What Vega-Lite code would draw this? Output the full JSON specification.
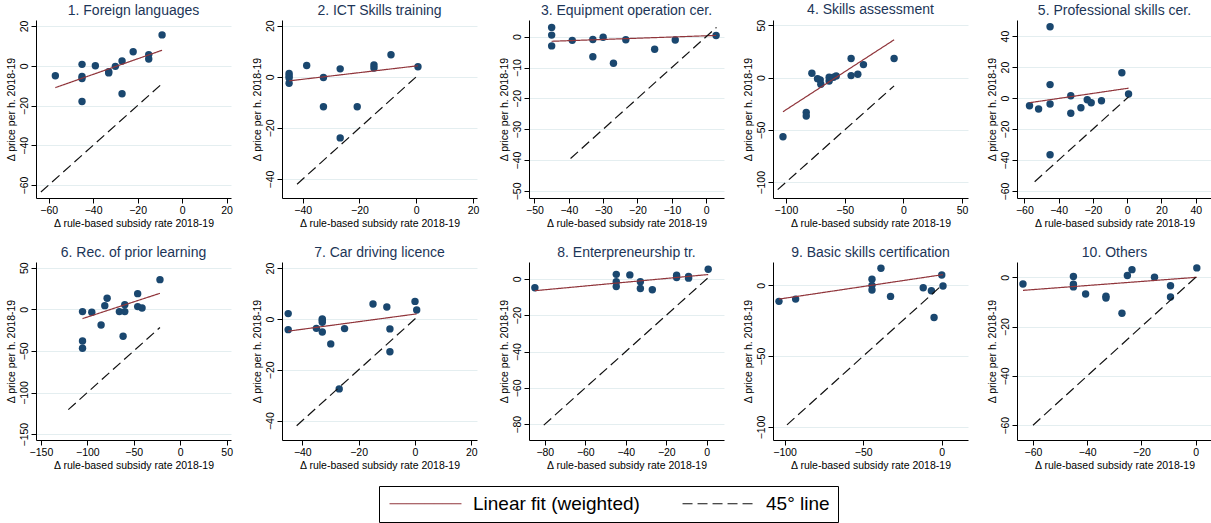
{
"$schema": "https://vega.github.io/schema/vega-lite/v6.json",
"padding": {"left": 5, "top": 3, "right": 0, "bottom": 0},
"background": "white",
"datasets": {
"pts": [
{"p":1,"x":-57,"y":-5},{"p":1,"x":-45,"y":0.7},{"p":1,"x":-45,"y":-5.4},{"p":1,"x":-45,"y":-6.4},{"p":1,"x":-45,"y":-18},{"p":1,"x":-39,"y":0},{"p":1,"x":-33,"y":-3},{"p":1,"x":-33,"y":-3.6},{"p":1,"x":-30,"y":-0.3},{"p":1,"x":-27,"y":2.4},{"p":1,"x":-27,"y":-14.1},{"p":1,"x":-22,"y":7},{"p":1,"x":-15,"y":5.6},{"p":1,"x":-15,"y":3.4},{"p":1,"x":-9,"y":15.5},
{"p":2,"x":-44.8,"y":1.3},{"p":2,"x":-44.8,"y":0.3},{"p":2,"x":-44.8,"y":-0.5},{"p":2,"x":-44.8,"y":-2.5},{"p":2,"x":-38.6,"y":4.4},{"p":2,"x":-32.7,"y":-0.3},{"p":2,"x":-32.7,"y":-11.7},{"p":2,"x":-26.8,"y":3.1},{"p":2,"x":-26.8,"y":-23.9},{"p":2,"x":-20.8,"y":-11.7},{"p":2,"x":-14.9,"y":4.6},{"p":2,"x":-14.9,"y":3.4},{"p":2,"x":-8.9,"y":8.6},{"p":2,"x":0.6,"y":3.9},
{"p":3,"x":-45,"y":3},{"p":3,"x":-45,"y":0.5},{"p":3,"x":-45,"y":-3},{"p":3,"x":-39,"y":-1.2},{"p":3,"x":-33,"y":-0.9},{"p":3,"x":-33,"y":-6.5},{"p":3,"x":-30,"y":-0.2},{"p":3,"x":-27,"y":-8.6},{"p":3,"x":-23.4,"y":-1},{"p":3,"x":-15,"y":-4.1},{"p":3,"x":-9,"y":-1.1},{"p":3,"x":2.9,"y":0.4},
{"p":4,"x":-102.5,"y":-56.5},{"p":4,"x":-82.7,"y":-33.2},{"p":4,"x":-82.7,"y":-36.7},{"p":4,"x":-77.9,"y":4.1},{"p":4,"x":-73.1,"y":-1},{"p":4,"x":-70.8,"y":-2.2},{"p":4,"x":-70.3,"y":-6.4},{"p":4,"x":-63.2,"y":-3.2},{"p":4,"x":-63.2,"y":0.3},{"p":4,"x":-59.5,"y":0.3},{"p":4,"x":-57.2,"y":1.6},{"p":4,"x":-44.5,"y":18.2},{"p":4,"x":-44.5,"y":1.9},{"p":4,"x":-38.8,"y":3.2},{"p":4,"x":-34,"y":12.4},{"p":4,"x":-7.9,"y":18.2},
{"p":5,"x":-57,"y":-4.9},{"p":5,"x":-51.7,"y":-7},{"p":5,"x":-45,"y":46},{"p":5,"x":-45,"y":8.7},{"p":5,"x":-45,"y":-3.8},{"p":5,"x":-45,"y":-36.6},{"p":5,"x":-32.9,"y":1.5},{"p":5,"x":-32.9,"y":-9.8},{"p":5,"x":-27,"y":-6.2},{"p":5,"x":-23.3,"y":-1.1},{"p":5,"x":-21,"y":-3},{"p":5,"x":-15,"y":-1.7},{"p":5,"x":-3.1,"y":16.4},{"p":5,"x":0.8,"y":2.6},
{"p":6,"x":-105.2,"y":-2.8},{"p":6,"x":-105.2,"y":-38},{"p":6,"x":-105.2,"y":-46.8},{"p":6,"x":-95.2,"y":-3.6},{"p":6,"x":-85.2,"y":-18.8},{"p":6,"x":-81.2,"y":4.4},{"p":6,"x":-78.7,"y":13.2},{"p":6,"x":-65.5,"y":-2.8},{"p":6,"x":-61.5,"y":-32.4},{"p":6,"x":-59.7,"y":-2.8},{"p":6,"x":-59.7,"y":5.6},{"p":6,"x":-45.8,"y":18.8},{"p":6,"x":-45.8,"y":3.2},{"p":6,"x":-41.1,"y":1.6},{"p":6,"x":-21.8,"y":35.6},
{"p":7,"x":-45,"y":2.1},{"p":7,"x":-45,"y":-4.2},{"p":7,"x":-35,"y":-3.7},{"p":7,"x":-32.9,"y":0},{"p":7,"x":-32.9,"y":-0.5},{"p":7,"x":-32.9,"y":-1.3},{"p":7,"x":-32.9,"y":-5.1},{"p":7,"x":-29.9,"y":-9.8},{"p":7,"x":-25,"y":-3.8},{"p":7,"x":-26.9,"y":-27.5},{"p":7,"x":-14.9,"y":5.9},{"p":7,"x":-10,"y":4.7},{"p":7,"x":-8.9,"y":-3.9},{"p":7,"x":-8.9,"y":-12.9},{"p":7,"x":0,"y":6.9},{"p":7,"x":0.6,"y":3.5},
{"p":8,"x":-84.9,"y":-4.9},{"p":8,"x":-44.7,"y":2.5},{"p":8,"x":-44.7,"y":-1.6},{"p":8,"x":-44.7,"y":-4.2},{"p":8,"x":-38,"y":2.2},{"p":8,"x":-32.8,"y":-1.6},{"p":8,"x":-32.8,"y":-5.3},{"p":8,"x":-26.9,"y":-6},{"p":8,"x":-14.9,"y":2},{"p":8,"x":-14.9,"y":0.7},{"p":8,"x":-9,"y":1.3},{"p":8,"x":-9,"y":0.4},{"p":8,"x":0.7,"y":5.3},
{"p":9,"x":-103.6,"y":-11.3},{"p":9,"x":-93,"y":-9.7},{"p":9,"x":-44.4,"y":4.3},{"p":9,"x":-44.4,"y":0},{"p":9,"x":-44.4,"y":-3.3},{"p":9,"x":-38.7,"y":12.1},{"p":9,"x":-32.6,"y":-7.8},{"p":9,"x":-11.8,"y":-1.7},{"p":9,"x":-6.6,"y":-3.8},{"p":9,"x":-4.9,"y":-22.7},{"p":9,"x":0,"y":7.3},{"p":9,"x":0.8,"y":-0.5},
{"p":10,"x":-63.7,"y":-2.7},{"p":10,"x":-45.1,"y":0.3},{"p":10,"x":-45.1,"y":-2.8},{"p":10,"x":-45.1,"y":-3.9},{"p":10,"x":-40.6,"y":-6.8},{"p":10,"x":-33.1,"y":-7.7},{"p":10,"x":-33.1,"y":-8.4},{"p":10,"x":-27.2,"y":-14.6},{"p":10,"x":-25.2,"y":0.7},{"p":10,"x":-23.5,"y":3.1},{"p":10,"x":-15.2,"y":0},{"p":10,"x":-9.3,"y":-3.4},{"p":10,"x":-9.3,"y":-8},{"p":10,"x":0.4,"y":3.8}
],
"lines": [
{"p":1,"s":"Linear fit (weighted)","x":-57,"y":-11},{"p":1,"s":"Linear fit (weighted)","x":-9,"y":7.8},{"p":1,"s":"45° line","x":-63.5,"y":-63.5},{"p":1,"s":"45° line","x":-9,"y":-9},
{"p":2,"s":"Linear fit (weighted)","x":-44.8,"y":-1.6},{"p":2,"s":"Linear fit (weighted)","x":0.6,"y":4.3},{"p":2,"s":"45° line","x":-42,"y":-42},{"p":2,"s":"45° line","x":0.6,"y":0.6},
{"p":3,"s":"Linear fit (weighted)","x":-45,"y":-1.5},{"p":3,"s":"Linear fit (weighted)","x":2.9,"y":0.4},{"p":3,"s":"45° line","x":-39.5,"y":-39.5},{"p":3,"s":"45° line","x":3,"y":3},
{"p":4,"s":"Linear fit (weighted)","x":-102.5,"y":-32.6},{"p":4,"s":"Linear fit (weighted)","x":-7.9,"y":36.1},{"p":4,"s":"45° line","x":-107,"y":-107},{"p":4,"s":"45° line","x":-7.9,"y":-7.9},
{"p":5,"s":"Linear fit (weighted)","x":-57,"y":-3},{"p":5,"s":"Linear fit (weighted)","x":0.8,"y":6.4},{"p":5,"s":"45° line","x":-54,"y":-54},{"p":5,"s":"45° line","x":0.8,"y":0.8},
{"p":6,"s":"Linear fit (weighted)","x":-105.2,"y":-11.2},{"p":6,"s":"Linear fit (weighted)","x":-21.8,"y":19.2},{"p":6,"s":"45° line","x":-120.5,"y":-120.5},{"p":6,"s":"45° line","x":-21.8,"y":-21.8},
{"p":7,"s":"Linear fit (weighted)","x":-45,"y":-4.8},{"p":7,"s":"Linear fit (weighted)","x":0.6,"y":2},{"p":7,"s":"45° line","x":-42,"y":-42},{"p":7,"s":"45° line","x":0.6,"y":0.6},
{"p":8,"s":"Linear fit (weighted)","x":-84.9,"y":-6.5},{"p":8,"s":"Linear fit (weighted)","x":0.7,"y":2.4},{"p":8,"s":"45° line","x":-80.5,"y":-80.5},{"p":8,"s":"45° line","x":0.7,"y":0.7},
{"p":9,"s":"Linear fit (weighted)","x":-103.6,"y":-9.7},{"p":9,"s":"Linear fit (weighted)","x":0.8,"y":7.6},{"p":9,"s":"45° line","x":-98.5,"y":-98.5},{"p":9,"s":"45° line","x":0,"y":0},
{"p":10,"s":"Linear fit (weighted)","x":-63.7,"y":-5.3},{"p":10,"s":"Linear fit (weighted)","x":0.4,"y":0},{"p":10,"s":"45° line","x":-60,"y":-60},{"p":10,"s":"45° line","x":0.4,"y":0.4}
]
},
"columns": 5,
"spacing": {"row": 16, "column": 19},
"resolve": {"scale": {"x": "independent", "y": "independent", "color": "shared", "strokeDash": "shared"}, "axis": {"x": "independent", "y": "independent"}},
"concat": [
{"title": "1. Foreign languages", "width": 195, "height": 178,
 "encoding": {"x": {"field": "x", "type": "quantitative", "scale": {"domain": [-65.7, 22], "nice": false, "zero": false}, "axis": {"values": [-60, -40, -20, 0, 20], "title": "Δ rule-based subsidy rate 2018-19"}},
  "y": {"field": "y", "type": "quantitative", "scale": {"domain": [-66.5, 23], "nice": false, "zero": false}, "axis": {"values": [-60, -40, -20, 0, 20], "title": "Δ price per h. 2018-19"}}},
 "layer": [
  {"data": {"name": "pts"}, "transform": [{"filter": "datum.p == 1"}], "mark": "circle"},
  {"data": {"name": "lines"}, "transform": [{"filter": "datum.p == 1"}], "mark": "line",
   "encoding": {"color": {"field": "s", "type": "nominal", "scale": {"domain": ["Linear fit (weighted)", "45° line"], "range": ["#90353b", "#111111"]}},
    "strokeDash": {"field": "s", "type": "nominal", "scale": {"domain": ["Linear fit (weighted)", "45° line"], "range": [[1, 0], [10, 5]]}}}}
 ]},
{"title": "2. ICT Skills training", "width": 195, "height": 178,
 "encoding": {"x": {"field": "x", "type": "quantitative", "scale": {"domain": [-47.3, 21.4], "nice": false, "zero": false}, "axis": {"values": [-40, -20, 0, 20], "title": "Δ rule-based subsidy rate 2018-19"}},
  "y": {"field": "y", "type": "quantitative", "scale": {"domain": [-47.4, 22.2], "nice": false, "zero": false}, "axis": {"values": [-40, -20, 0, 20], "title": "Δ price per h. 2018-19"}}},
 "layer": [
  {"data": {"name": "pts"}, "transform": [{"filter": "datum.p == 2"}], "mark": "circle"},
  {"data": {"name": "lines"}, "transform": [{"filter": "datum.p == 2"}], "mark": "line",
   "encoding": {"color": {"field": "s", "type": "nominal", "scale": {"domain": ["Linear fit (weighted)", "45° line"], "range": ["#90353b", "#111111"]}},
    "strokeDash": {"field": "s", "type": "nominal", "scale": {"domain": ["Linear fit (weighted)", "45° line"], "range": [[1, 0], [10, 5]]}}}}
 ]},
{"title": "3. Equipment operation cer.", "width": 195, "height": 178,
 "encoding": {"x": {"field": "x", "type": "quantitative", "scale": {"domain": [-51.6, 5.2], "nice": false, "zero": false}, "axis": {"values": [-50, -40, -30, -20, -10, 0], "title": "Δ rule-based subsidy rate 2018-19"}},
  "y": {"field": "y", "type": "quantitative", "scale": {"domain": [-52.3, 5.4], "nice": false, "zero": false}, "axis": {"values": [-50, -40, -30, -20, -10, 0], "title": "Δ price per h. 2018-19"}}},
 "layer": [
  {"data": {"name": "pts"}, "transform": [{"filter": "datum.p == 3"}], "mark": "circle"},
  {"data": {"name": "lines"}, "transform": [{"filter": "datum.p == 3"}], "mark": "line",
   "encoding": {"color": {"field": "s", "type": "nominal", "scale": {"domain": ["Linear fit (weighted)", "45° line"], "range": ["#90353b", "#111111"]}},
    "strokeDash": {"field": "s", "type": "nominal", "scale": {"domain": ["Linear fit (weighted)", "45° line"], "range": [[1, 0], [10, 5]]}}}}
 ]},
{"title": "4. Skills assessment", "width": 195, "height": 178,
 "encoding": {"x": {"field": "x", "type": "quantitative", "scale": {"domain": [-111, 55], "nice": false, "zero": false}, "axis": {"values": [-100, -50, 0, 50], "title": "Δ rule-based subsidy rate 2018-19"}},
  "y": {"field": "y", "type": "quantitative", "scale": {"domain": [-115, 55], "nice": false, "zero": false}, "axis": {"values": [-100, -50, 0, 50], "title": "Δ price per h. 2018-19"}}},
 "layer": [
  {"data": {"name": "pts"}, "transform": [{"filter": "datum.p == 4"}], "mark": "circle"},
  {"data": {"name": "lines"}, "transform": [{"filter": "datum.p == 4"}], "mark": "line",
   "encoding": {"color": {"field": "s", "type": "nominal", "scale": {"domain": ["Linear fit (weighted)", "45° line"], "range": ["#90353b", "#111111"]}},
    "strokeDash": {"field": "s", "type": "nominal", "scale": {"domain": ["Linear fit (weighted)", "45° line"], "range": [[1, 0], [10, 5]]}}}}
 ]},
{"title": "5. Professional skills cer.", "width": 195, "height": 178,
 "encoding": {"x": {"field": "x", "type": "quantitative", "scale": {"domain": [-64.3, 49.5], "nice": false, "zero": false}, "axis": {"values": [-60, -40, -20, 0, 20, 40], "title": "Δ rule-based subsidy rate 2018-19"}},
  "y": {"field": "y", "type": "quantitative", "scale": {"domain": [-64.5, 50.4], "nice": false, "zero": false}, "axis": {"values": [-60, -40, -20, 0, 20, 40], "title": "Δ price per h. 2018-19"}}},
 "layer": [
  {"data": {"name": "pts"}, "transform": [{"filter": "datum.p == 5"}], "mark": "circle"},
  {"data": {"name": "lines"}, "transform": [{"filter": "datum.p == 5"}], "mark": "line",
   "encoding": {"color": {"field": "s", "type": "nominal", "scale": {"domain": ["Linear fit (weighted)", "45° line"], "range": ["#90353b", "#111111"]}},
    "strokeDash": {"field": "s", "type": "nominal", "scale": {"domain": ["Linear fit (weighted)", "45° line"], "range": [[1, 0], [10, 5]]}}}}
 ]},
{"title": "6. Rec. of prior learning", "width": 195, "height": 178,
 "encoding": {"x": {"field": "x", "type": "quantitative", "scale": {"domain": [-155.3, 54.7], "nice": false, "zero": false}, "axis": {"values": [-150, -100, -50, 0, 50], "title": "Δ rule-based subsidy rate 2018-19"}},
  "y": {"field": "y", "type": "quantitative", "scale": {"domain": [-157, 56.8], "nice": false, "zero": false}, "axis": {"values": [-150, -100, -50, 0, 50], "title": "Δ price per h. 2018-19"}}},
 "layer": [
  {"data": {"name": "pts"}, "transform": [{"filter": "datum.p == 6"}], "mark": "circle"},
  {"data": {"name": "lines"}, "transform": [{"filter": "datum.p == 6"}], "mark": "line",
   "encoding": {"color": {"field": "s", "type": "nominal", "scale": {"domain": ["Linear fit (weighted)", "45° line"], "range": ["#90353b", "#111111"]}},
    "strokeDash": {"field": "s", "type": "nominal", "scale": {"domain": ["Linear fit (weighted)", "45° line"], "range": [[1, 0], [10, 5]]}}}}
 ]},
{"title": "7. Car driving licence", "width": 195, "height": 178,
 "encoding": {"x": {"field": "x", "type": "quantitative", "scale": {"domain": [-47.2, 22], "nice": false, "zero": false}, "axis": {"values": [-40, -20, 0, 20], "title": "Δ rule-based subsidy rate 2018-19"}},
  "y": {"field": "y", "type": "quantitative", "scale": {"domain": [-47.6, 22.4], "nice": false, "zero": false}, "axis": {"values": [-40, -20, 0, 20], "title": "Δ price per h. 2018-19"}}},
 "layer": [
  {"data": {"name": "pts"}, "transform": [{"filter": "datum.p == 7"}], "mark": "circle"},
  {"data": {"name": "lines"}, "transform": [{"filter": "datum.p == 7"}], "mark": "line",
   "encoding": {"color": {"field": "s", "type": "nominal", "scale": {"domain": ["Linear fit (weighted)", "45° line"], "range": ["#90353b", "#111111"]}},
    "strokeDash": {"field": "s", "type": "nominal", "scale": {"domain": ["Linear fit (weighted)", "45° line"], "range": [[1, 0], [10, 5]]}}}}
 ]},
{"title": "8. Enterpreneurship tr.", "width": 195, "height": 178,
 "encoding": {"x": {"field": "x", "type": "quantitative", "scale": {"domain": [-87.8, 8.5], "nice": false, "zero": false}, "axis": {"values": [-80, -60, -40, -20, 0], "title": "Δ rule-based subsidy rate 2018-19"}},
  "y": {"field": "y", "type": "quantitative", "scale": {"domain": [-88.7, 9.3], "nice": false, "zero": false}, "axis": {"values": [-80, -60, -40, -20, 0], "title": "Δ price per h. 2018-19"}}},
 "layer": [
  {"data": {"name": "pts"}, "transform": [{"filter": "datum.p == 8"}], "mark": "circle"},
  {"data": {"name": "lines"}, "transform": [{"filter": "datum.p == 8"}], "mark": "line",
   "encoding": {"color": {"field": "s", "type": "nominal", "scale": {"domain": ["Linear fit (weighted)", "45° line"], "range": ["#90353b", "#111111"]}},
    "strokeDash": {"field": "s", "type": "nominal", "scale": {"domain": ["Linear fit (weighted)", "45° line"], "range": [[1, 0], [10, 5]]}}}}
 ]},
{"title": "9. Basic skills certification", "width": 195, "height": 178,
 "encoding": {"x": {"field": "x", "type": "quantitative", "scale": {"domain": [-107.4, 16.7], "nice": false, "zero": false}, "axis": {"values": [-100, -50, 0], "title": "Δ rule-based subsidy rate 2018-19"}},
  "y": {"field": "y", "type": "quantitative", "scale": {"domain": [-109.2, 16.5], "nice": false, "zero": false}, "axis": {"values": [-100, -50, 0], "title": "Δ price per h. 2018-19"}}},
 "layer": [
  {"data": {"name": "pts"}, "transform": [{"filter": "datum.p == 9"}], "mark": "circle"},
  {"data": {"name": "lines"}, "transform": [{"filter": "datum.p == 9"}], "mark": "line",
   "encoding": {"color": {"field": "s", "type": "nominal", "scale": {"domain": ["Linear fit (weighted)", "45° line"], "range": ["#90353b", "#111111"]}},
    "strokeDash": {"field": "s", "type": "nominal", "scale": {"domain": ["Linear fit (weighted)", "45° line"], "range": [[1, 0], [10, 5]]}}}}
 ]},
{"title": "10. Others", "width": 195, "height": 178,
 "encoding": {"x": {"field": "x", "type": "quantitative", "scale": {"domain": [-65.9, 6], "nice": false, "zero": false}, "axis": {"values": [-60, -40, -20, 0], "title": "Δ rule-based subsidy rate 2018-19"}},
  "y": {"field": "y", "type": "quantitative", "scale": {"domain": [-66, 6.2], "nice": false, "zero": false}, "axis": {"values": [-60, -40, -20, 0], "title": "Δ price per h. 2018-19"}}},
 "layer": [
  {"data": {"name": "pts"}, "transform": [{"filter": "datum.p == 10"}], "mark": "circle"},
  {"data": {"name": "lines"}, "transform": [{"filter": "datum.p == 10"}], "mark": "line",
   "encoding": {"color": {"field": "s", "type": "nominal", "scale": {"domain": ["Linear fit (weighted)", "45° line"], "range": ["#90353b", "#111111"]}},
    "strokeDash": {"field": "s", "type": "nominal", "scale": {"domain": ["Linear fit (weighted)", "45° line"], "range": [[1, 0], [10, 5]]}}}}
 ]}
],
"config": {
 "font": "Liberation Sans",
 "view": {"stroke": null},
 "circle": {"size": 55, "opacity": 1, "color": "#1a476f"},
 "line": {"strokeWidth": 1.2},
 "title": {"fontSize": 14, "fontWeight": "normal", "color": "#1c3557", "offset": 2, "anchor": "middle"},
 "axis": {"domainColor": "#000000", "tickColor": "#000000", "labelColor": "#000000", "titleColor": "#000000", "labelFontSize": 10.5, "titleFontSize": 10.5, "titleFontWeight": "normal", "tickSize": 5, "labelPadding": 2, "titlePadding": 3, "labelFlush": false, "labelOverlap": false, "grid": false},
 "axisY": {"grid": true, "gridColor": "#e4eef0", "labelAngle": -90},
 "legend": {"orient": "none", "legendX": 343, "legendY": 466, "direction": "horizontal", "title": null, "symbolType": "M-5,0H5", "symbolSize": 207, "symbolStrokeWidth": 1.2, "symbolOffset": 29, "labelFontSize": 19, "labelLimit": 400, "labelColor": "#000000", "strokeColor": "#000000", "padding": 8, "columnPadding": 40, "labelOffset": 38, "columns": 2}
}
}
